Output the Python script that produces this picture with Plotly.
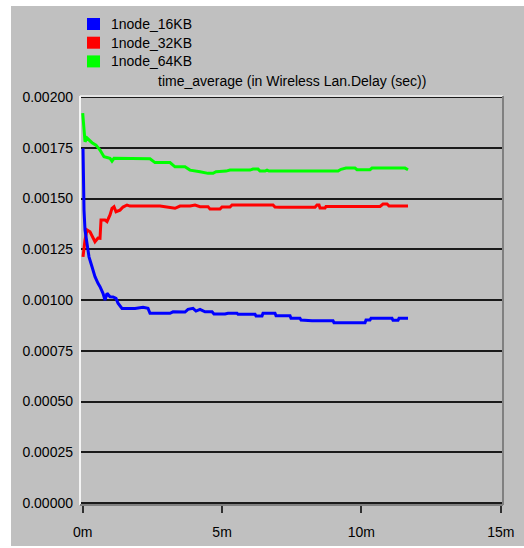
import plotly.graph_objects as go

# Time axis in minutes, delay in seconds
t_16 = [0.011, 0.022, 0.047, 0.083, 0.154, 0.226, 0.334, 0.441, 0.549, 0.621, 0.728, 0.800,
        0.872, 0.980, 1.087, 1.195, 1.267, 1.410, 1.877, 2.164, 2.343, 2.415, 3.132, 3.240,
        3.671, 3.778, 3.958, 4.065, 4.209, 4.388, 4.640, 4.711, 5.106, 5.214, 5.537, 5.573,
        6.183, 6.219, 6.433, 6.469, 6.899, 6.935, 7.438, 7.474, 7.796, 7.832, 8.227, 8.981,
        9.017, 10.129, 10.165, 10.308, 10.344, 11.098, 11.134, 11.313, 11.349, 11.672]
delay_16 = [0.001747, 0.001591, 0.001443, 0.001345, 0.001279, 0.001213, 0.001164, 0.001115,
            0.001082, 0.001066, 0.001033, 0.001000, 0.001033, 0.001016, 0.001015, 0.001008,
            0.000984, 0.000959, 0.000959, 0.000964, 0.000959, 0.000935, 0.000935, 0.000942,
            0.000941, 0.000954, 0.000959, 0.000946, 0.000954, 0.000942, 0.000942, 0.000931,
            0.000931, 0.000935, 0.000935, 0.000930, 0.000930, 0.000921, 0.000921, 0.000935,
            0.000935, 0.000923, 0.000923, 0.000910, 0.000910, 0.000902, 0.000898, 0.000898,
            0.000888, 0.000888, 0.000902, 0.000902, 0.000910, 0.000910, 0.000900, 0.000900,
            0.000910, 0.000910]

t_32 = [0.011, 0.083, 0.154, 0.262, 0.441, 0.549, 0.621, 0.657, 0.800, 0.872, 0.980, 1.051,
        1.123, 1.195, 1.338, 1.446, 1.590, 1.697, 2.774, 2.957, 3.312, 3.491, 3.850, 4.030,
        4.209, 4.496, 4.568, 4.926, 4.998, 5.285, 5.357, 6.828, 6.899, 7.079, 8.335, 8.407,
        8.479, 8.515, 8.694, 8.730, 10.668, 10.776, 10.919, 10.991, 11.672]
delay_32 = [0.001213, 0.001296, 0.001345, 0.001336, 0.001287, 0.001305, 0.001304, 0.001394,
            0.001394, 0.001386, 0.001419, 0.001452, 0.001460, 0.001435, 0.001443, 0.001458,
            0.001468, 0.001463, 0.001463, 0.001458, 0.001452, 0.001463, 0.001463, 0.001468,
            0.001460, 0.001460, 0.001448, 0.001448, 0.001458, 0.001458, 0.001468, 0.001468,
            0.001458, 0.001457, 0.001457, 0.001468, 0.001468, 0.001453, 0.001453, 0.001461,
            0.001461, 0.001473, 0.001473, 0.001463, 0.001463]

t_64 = [0.000, 0.083, 0.154, 0.334, 0.477, 0.621, 0.764, 0.980, 1.051, 1.123, 2.415, 2.594,
        3.132, 3.311, 3.670, 3.849, 4.209, 4.496, 4.675, 4.783, 5.142, 5.285, 6.003, 6.110,
        6.290, 6.362, 6.541, 6.613, 6.685, 9.161, 9.268, 9.447, 9.770, 9.842, 10.308, 10.380,
        11.564, 11.672]
delay_64 = [0.001921, 0.001780, 0.001798, 0.001775, 0.001763, 0.001739, 0.001706, 0.001698,
            0.001684, 0.001698, 0.001696, 0.001677, 0.001677, 0.001656, 0.001656, 0.001640,
            0.001632, 0.001624, 0.001624, 0.001632, 0.001635, 0.001640, 0.001640, 0.001645,
            0.001645, 0.001635, 0.001635, 0.001640, 0.001635, 0.001635, 0.001644, 0.001650,
            0.001650, 0.001642, 0.001642, 0.001650, 0.001650, 0.001642]

series_names = ["1node_16KB", "1node_32KB", "1node_64KB"]
series_colors = ["#0000ff", "#ff0000", "#00ff00"]
x_tick_vals = [0, 5, 10, 15]
x_tick_text = ["0m", "5m", "10m", "15m"]
y_tick_vals = [0, 0.00025, 0.0005, 0.00075, 0.001, 0.00125, 0.0015, 0.00175, 0.002]
y_tick_text = ["0.00000", "0.00025", "0.00050", "0.00075", "0.00100",
               "0.00125", "0.00150", "0.00175", "0.00200"]
chart_title = "time_average (in Wireless Lan.Delay (sec))"

FONT = "Liberation Sans, Arial, sans-serif"
GRAY = "#c0c0c0"

fig = go.Figure()
for tx, ty, name, col in [(t_64, delay_64, series_names[2], series_colors[2]),
                          (t_32, delay_32, series_names[1], series_colors[1]),
                          (t_16, delay_16, series_names[0], series_colors[0])]:
    fig.add_trace(go.Scatter(x=tx, y=ty, mode="lines", name=name, showlegend=False,
                             line=dict(color=col, width=3)))

# plot area: 80..503 px horizontally, 96..505 px vertically
W, H = 524, 548
L, R, T, B = 80, 21, 96, 43
pw, ph = W - L - R, H - T - B

def px(x):
    return (x - L) / pw

def py(y):
    return (H - B - y) / ph

shapes = []
# white outer margins around the gray panel
shapes.append(dict(type="rect", xref="paper", yref="paper", x0=px(0), x1=px(W), y0=py(6), y1=py(0),
                   fillcolor="white", line_width=0, layer="above"))
shapes.append(dict(type="rect", xref="paper", yref="paper", x0=px(0), x1=px(11), y0=py(H), y1=py(0),
                   fillcolor="white", line_width=0, layer="above"))
shapes.append(dict(type="rect", xref="paper", yref="paper", x0=px(0), x1=px(W), y0=py(H), y1=py(546),
                   fillcolor="white", line_width=0, layer="above"))
# sunken frame around the plot area
shapes.append(dict(type="line", xref="paper", yref="paper", x0=0, x1=1, y0=1, y1=1,
                   line=dict(color="#e4e4e4", width=2), layer="above"))
shapes.append(dict(type="line", xref="paper", yref="paper", x0=0, x1=0, y0=0, y1=1,
                   line=dict(color="#f4f4f4", width=2), layer="above"))
shapes.append(dict(type="line", xref="paper", yref="paper", x0=1, x1=1, y0=0, y1=1,
                   line=dict(color="#808080", width=2), layer="above"))
shapes.append(dict(type="line", xref="paper", yref="paper", x0=0, x1=1, y0=0, y1=0,
                   line=dict(color="#808080", width=2), layer="above"))

annotations = []
# legend swatches and labels
for i, (name, col) in enumerate(zip(series_names, series_colors)):
    top = 18 + i * 18.7
    shapes.append(dict(type="rect", xref="paper", yref="paper",
                       x0=px(87), x1=px(100), y0=py(top + 12), y1=py(top),
                       fillcolor=col, line=dict(color=col, width=0), layer="above"))
    annotations.append(dict(text=name, xref="paper", yref="paper", x=px(109), y=py(top + 6),
                            xanchor="left", yanchor="middle", showarrow=False,
                            font=dict(family=FONT, size=14, color="#000000")))
annotations.append(dict(text=chart_title, xref="paper", yref="paper", x=px(292), y=py(81),
                        xanchor="center", yanchor="middle", showarrow=False,
                        font=dict(family=FONT, size=14, color="#000000")))

fig.update_layout(
    width=W, height=H, autosize=False,
    margin=dict(l=L, r=R, t=T, b=B, pad=0, autoexpand=False),
    paper_bgcolor=GRAY, plot_bgcolor=GRAY,
    font=dict(family=FONT, size=14, color="#000000"),
    shapes=shapes, annotations=annotations,
    showlegend=False,
)
fig.update_xaxes(range=[-0.097, 15.08], tickvals=x_tick_vals, ticktext=x_tick_text,
                 showgrid=False, zeroline=False, showline=False, automargin=False,
                 ticks="outside", ticklen=7, tickwidth=2, tickcolor="#303030",
                 ticklabelstandoff=7, tickfont=dict(family=FONT, size=14, color="#000000"))
fig.update_yaxes(range=[-0.0000094, 0.002005], tickvals=y_tick_vals, ticktext=y_tick_text,
                 showgrid=True, gridcolor="#1a1a1a", gridwidth=1.5, zeroline=False,
                 showline=False, ticks="", ticklabelstandoff=6, automargin=False,
                 tickfont=dict(family=FONT, size=14, color="#000000"))

fig.write_html("out.html")
